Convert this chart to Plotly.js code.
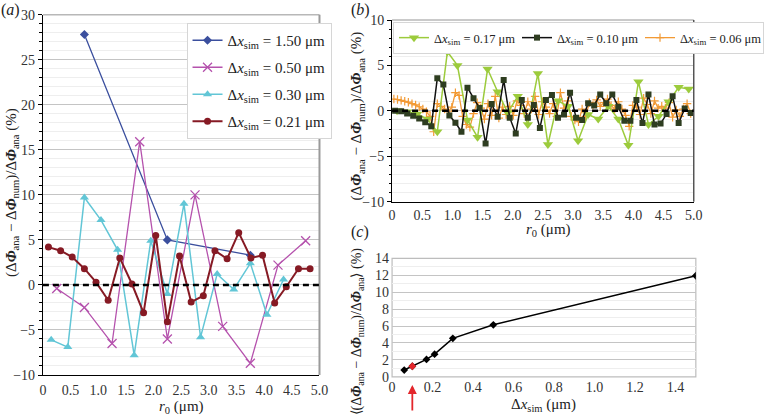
<!DOCTYPE html>
<html>
<head>
<meta charset="utf-8">
<script src="https://cdn.plot.ly/plotly-3.0.1.min.js"></script>
<style>html,body{margin:0;padding:0;background:#fff;}#chart{width:764px;height:418px;}</style>
</head>
<body>
<div id="chart"></div>
<script>
// ---------- Panel (a) data ----------
const r_a150 = [0.75, 2.25, 3.75];
const e_a150 = [27.8, 5.0, 3.3];
const r_a050 = [0.25, 0.75, 1.25, 1.75, 2.25, 2.75, 3.25, 3.75, 4.25, 4.75];
const e_a050 = [-0.4, -2.5, -6.5, 15.9, -6.0, 10.0, -4.6, -8.7, 2.2, 4.9];
const r_a030 = [0.15, 0.45, 0.75, 1.05, 1.35, 1.65, 1.95, 2.25, 2.55, 2.85, 3.15, 3.45, 3.75, 4.05, 4.35];
const e_a030 = [-6.1, -6.9, 9.7, 7.2, 3.9, -7.8, 4.9, -1.0, 9.0, -5.8, 1.2, -0.5, 2.4, -3.3, 0.6];
const r_a021 = [0.10, 0.32, 0.53, 0.75, 0.96, 1.18, 1.39, 1.61, 1.82, 2.04, 2.25, 2.47, 2.68, 2.90, 3.11, 3.33, 3.54, 3.76, 3.97, 4.19, 4.40, 4.62, 4.83];
const e_a021 = [4.2, 3.8, 3.1, 1.8, 0.3, -1.7, 3.0, 0.1, -3.1, 5.5, -4.1, 3.2, -1.9, -1.2, 3.8, 2.9, 5.8, 3.0, 3.3, -2.0, -0.2, 1.8, 1.8];

// ---------- Panel (b) data ----------
const r_b017 = [0.083, 0.25, 0.417, 0.583, 0.75, 0.917, 1.083, 1.25, 1.417, 1.583, 1.75, 1.917, 2.083, 2.25, 2.417,
                2.583, 2.75, 2.917, 3.083, 3.25, 3.417, 3.583, 3.75, 3.917, 4.083, 4.25, 4.417, 4.583, 4.75, 4.917];
const e_b017 = [0.0, -0.1, -0.35, -0.9, -2.3, 6.5, 5.0, -1.0, -2.9, 4.6, 2.1, -0.2, 1.6, -1.5, 4.1,
                -3.7, 1.1, 0.5, -3.3, -0.4, -0.9, 0.5, -0.9, -3.8, 3.2, -1.5, -0.6, 1.0, 2.6, 2.4];
const r_b010 = [0.05, 0.15, 0.25, 0.35, 0.45, 0.55, 0.65, 0.75, 0.85, 0.95, 1.05, 1.15, 1.25, 1.35, 1.45, 1.55, 1.65, 1.75, 1.85, 1.95,
                2.05, 2.15, 2.25, 2.35, 2.45, 2.55, 2.65, 2.75, 2.85, 2.95, 3.05, 3.15, 3.25, 3.35, 3.45, 3.55, 3.65, 3.75, 3.85, 3.95,
                4.05, 4.15, 4.25, 4.35, 4.45, 4.55, 4.65, 4.75, 4.85, 4.95];
const e_b010 = [0.0, -0.05, -0.3, -0.55, -0.85, -1.25, -1.7, 3.6, 2.9, -0.5, -1.3, -2.3, 2.55, 1.4, 0.3, -3.6, 0.75, -0.65, 3.4, -0.75,
                -2.5, 1.2, -0.75, 0.65, -1.9, 1.2, 1.75, -0.75, -0.4, 2.0, -0.75, -1.0, 0.85, 0.6, 1.8, 0.85, 1.8, 0.45, -1.1, -1.1,
                1.2, -1.35, 1.8, -1.5, -1.4, -0.35, 1.6, -1.35, 0.25, -0.25];
const r_b006 = [0.03, 0.09, 0.15, 0.21, 0.27, 0.33, 0.39, 0.45, 0.51, 0.57, 0.63, 0.69, 0.75, 0.81, 0.87, 0.93, 0.99,
                1.05, 1.11, 1.17, 1.23, 1.29, 1.35, 1.41, 1.47, 1.53, 1.59, 1.65, 1.71, 1.77, 1.83, 1.89, 1.95,
                2.01, 2.07, 2.13, 2.19, 2.25, 2.31, 2.37, 2.43, 2.49, 2.55, 2.61, 2.67, 2.73, 2.79, 2.85, 2.91, 2.97,
                3.03, 3.09, 3.15, 3.21, 3.27, 3.33, 3.39, 3.45, 3.51, 3.57, 3.63, 3.69, 3.75, 3.81, 3.87, 3.93, 3.99,
                4.05, 4.11, 4.17, 4.23, 4.29, 4.35, 4.41, 4.47, 4.53, 4.59, 4.65, 4.71, 4.77, 4.83, 4.89, 4.95];
const e_b006 = [1.3, 1.25, 1.15, 1.05, 0.95, 0.8, 0.65, 0.45, 0.2, -0.1, -0.6, -2.3, 0.8, 0.5, 0.2, -0.1, 0.4,
                2.0, 1.7, -0.6, -1.5, -1.8, -0.3, 0.9, 0.3, -0.9, 0.8, -0.5, 1.6, -0.8, 0.4, -0.4, 0.5,
                -0.5, 1.1, 0.6, -0.3, 1.0, 0.2, 1.6, -0.4, 1.0, 0.4, -0.3, 0.8, -0.6, 2.0, 0.3, 1.1, -0.6,
                -1.0, -1.2, 0.2, -0.6, 0.9, 0.6, 1.2, 0.5, 0.9, 1.3, 0.6, 0.2, 1.0, 0.2, -0.5, -1.7, 0.6,
                0.4, -0.4, 1.4, 0.7, -0.3, 1.1, 0.3, 0.5, 0.3, 0.9, -0.7, 0.1, -0.6, 0.2, 0.8, -0.3];

// ---------- Panel (c) data ----------
const dxSim = [0.06, 0.10, 0.17, 0.21, 0.30, 0.50, 1.50];
const errMean = [0.8, 1.25, 2.05, 2.68, 4.55, 6.15, 11.95];
const highlightDx = [0.10];

// ---------- tick labels ----------
const rTickVals = [0, 0.5, 1.0, 1.5, 2.0, 2.5, 3.0, 3.5, 4.0, 4.5, 5.0];
const rTickText = ['0', '0.5', '1.0', '1.5', '2.0', '2.5', '3.0', '3.5', '4.0', '4.5', '5.0'];
const dxTickVals = [0, 0.2, 0.4, 0.6, 0.8, 1.0, 1.2, 1.4];
const dxTickText = ['0', '0.2', '0.4', '0.6', '0.8', '1.0', '1.2', '1.4'];

// ---------- legend labels ----------
const labA = ['Δ<i>x</i><sub>sim</sub> = 1.50 μm', 'Δ<i>x</i><sub>sim</sub> = 0.50 μm',
              'Δ<i>x</i><sub>sim</sub> = 0.30 μm', 'Δ<i>x</i><sub>sim</sub> = 0.21 μm'];
const labB = ['Δ<i>x</i><sub>sim</sub> = 0.17 μm', 'Δ<i>x</i><sub>sim</sub> = 0.10 μm', 'Δ<i>x</i><sub>sim</sub> = 0.06 μm'];

const FONT = 'Liberation Serif';
const W = 764, H = 418;
const px = v => v / W;
const py = v => 1 - v / H;

const traces = [
  {x: r_a150, y: e_a150, name: labA[0], legend: 'legend', legendgroup: 'a1', mode: 'lines+markers', xaxis: 'x', yaxis: 'y',
   line: {color: '#3b4f9e', width: 1.3}, marker: {symbol: 'diamond', size: 7, color: '#3b4f9e'}},
  {x: r_a050, y: e_a050, name: labA[1], legend: 'legend', legendgroup: 'a2', mode: 'lines+markers', xaxis: 'x', yaxis: 'y',
   line: {color: '#b552ad', width: 1.3}, marker: {symbol: 'x-thin', size: 9, color: '#b552ad', line: {color: '#b552ad', width: 1.3}}},
  {x: r_a030, y: e_a030, name: labA[2], legend: 'legend', legendgroup: 'a3', mode: 'lines+markers', xaxis: 'x', yaxis: 'y',
   line: {color: '#62c6d6', width: 1.5}, marker: {symbol: 'triangle-up', size: 8, color: '#62c6d6'}},
  {x: r_a021, y: e_a021, name: labA[3], legend: 'legend', legendgroup: 'a4', mode: 'lines+markers', xaxis: 'x', yaxis: 'y',
   line: {color: '#861a24', width: 2}, marker: {symbol: 'circle', size: 7, color: '#861a24'}},

  {x: r_b006, y: e_b006, name: labB[2], legend: 'legend2', legendrank: 3, mode: 'lines+markers', xaxis: 'x2', yaxis: 'y2',
   line: {color: '#f29a35', width: 1.3}, marker: {symbol: 'cross-thin', size: 6, color: '#f29a35', line: {color: '#f29a35', width: 1.2}}},
  {x: r_b017, y: e_b017, name: labB[0], legend: 'legend2', legendrank: 1, mode: 'lines+markers', xaxis: 'x2', yaxis: 'y2',
   line: {color: '#9ccb3c', width: 1.5}, marker: {symbol: 'triangle-down', size: 9, color: '#9ccb3c'}},
  {x: r_b010, y: e_b010, name: labB[1], legend: 'legend2', legendrank: 2, mode: 'lines+markers', xaxis: 'x2', yaxis: 'y2',
   line: {color: '#111111', width: 1.5}, marker: {symbol: 'square', size: 6, color: '#2e3d20'}},

  {x: dxSim, y: errMean, showlegend: false, mode: 'lines+markers', xaxis: 'x3', yaxis: 'y3',
   line: {color: '#000', width: 1.5}, marker: {symbol: 'diamond', size: 6, color: '#000'}},
  {x: highlightDx, y: highlightDx.map(v => errMean[dxSim.indexOf(v)]), showlegend: false, mode: 'markers', xaxis: 'x3', yaxis: 'y3',
   marker: {symbol: 'diamond', size: 6, color: '#e3262b'}}
];

const tickFont = () => ({family: FONT, size: 14, color: '#333'});
const minorY = () => ({dtick: 1, ticks: 'outside', ticklen: 2.5, tickcolor: '#000', showgrid: true, gridcolor: '#eeeeee', gridwidth: 1});

function ann(text, x, y, size, angle) {
  return {text: text, xref: 'paper', yref: 'paper', x: px(x), y: py(y), xanchor: 'center', yanchor: 'middle',
          textangle: angle || 0, showarrow: false, font: {family: FONT, size: size, color: '#222'}};
}
const yTitle = '(Δ<b><i>Φ</i></b><sub>ana</sub> − Δ<b><i>Φ</i></b><sub>num</sub>)/Δ<b><i>Φ</i></b><sub>ana</sub> (%)';
const yTitleC = '⟨(Δ<b><i>Φ</i></b><sub>ana</sub> − Δ<b><i>Φ</i></b><sub>num</sub>)/Δ<b><i>Φ</i></b><sub>ana</sub>⟩ (%)';

const layout = {
  width: W, height: H,
  margin: {l: 0, r: 0, t: 0, b: 0},
  paper_bgcolor: '#fff', plot_bgcolor: '#fff',
  font: {family: FONT, size: 14, color: '#222'},
  showlegend: true,
  xaxis: {domain: [px(46.7), px(347.7)], anchor: 'y', range: [0, 5], tickvals: rTickVals, ticktext: rTickText,
          showline: true, linecolor: '#000', linewidth: 1, ticks: '', showgrid: false, zeroline: false, tickfont: tickFont(), ticklabelstandoff: 2},
  yaxis: {domain: [py(375), py(14.7)], anchor: 'x', range: [-10, 30], dtick: 5, showline: true, linecolor: '#000', linewidth: 1,
          ticks: 'outside', ticklen: 4, tickcolor: '#000', gridcolor: '#c4c4c4', zeroline: false, tickfont: tickFont(), minor: minorY()},
  xaxis2: {domain: [px(426.7), px(755)], anchor: 'y2', range: [0, 5], tickvals: rTickVals, ticktext: rTickText,
           showline: true, linecolor: '#000', linewidth: 1, ticks: '', showgrid: false, zeroline: false, tickfont: tickFont()},
  yaxis2: {domain: [py(201.7), py(20)], anchor: 'x2', range: [-10, 10], dtick: 5, showline: true, linecolor: '#000', linewidth: 1,
           ticks: 'outside', ticklen: 4, tickcolor: '#000', gridcolor: '#c4c4c4', zeroline: false, tickfont: tickFont(), minor: minorY()},
  xaxis3: {domain: [px(426.7), px(757.3)], anchor: 'y3', range: [0, 1.5], tickvals: dxTickVals, ticktext: dxTickText,
           showline: false, ticks: '', showgrid: false, zeroline: false, tickfont: tickFont()},
  yaxis3: {domain: [py(376.8), py(258.4)], anchor: 'x3', range: [0, 14], dtick: 2, showline: false, ticks: '',
           gridcolor: '#c4c4c4', zeroline: false, tickfont: tickFont(), ticklabelstandoff: 2,
           minor: {dtick: 1, showgrid: true, gridcolor: '#eeeeee', gridwidth: 1}},
  legend: {x: px(203), y: py(23), xanchor: 'left', yanchor: 'top', bgcolor: '#fff', bordercolor: '#d6d6d6', borderwidth: 1,
           font: {family: FONT, size: 15, color: '#222'}, tracegroupgap: 4.5, itemwidth: 30},
  legend2: {orientation: 'h', x: px(428), y: py(22), xanchor: 'left', yanchor: 'top', bgcolor: '#fff', bordercolor: '#d6d6d6', borderwidth: 1,
            font: {family: FONT, size: 12.5, color: '#222'}, itemwidth: 30, entrywidth: 78},
  shapes: [
    {type: 'line', xref: 'x domain', yref: 'y domain', x0: 0, x1: 1, y0: 1, y1: 1, line: {color: '#b8b8b8', width: 1.5}},
    {type: 'line', xref: 'x domain', yref: 'y domain', x0: 1, x1: 1, y0: 0, y1: 1, line: {color: '#9a9a9a', width: 2}},
    {type: 'line', xref: 'x domain', yref: 'y', x0: 0, x1: 1, y0: 0, y1: 0, line: {color: '#000', width: 2.5, dash: '6px,4px'}},
    {type: 'line', xref: 'x2 domain', yref: 'y2 domain', x0: 0, x1: 1, y0: 1, y1: 1, line: {color: '#b8b8b8', width: 1.5}},
    {type: 'line', xref: 'x2 domain', yref: 'y2 domain', x0: 1, x1: 1, y0: 0, y1: 1, line: {color: '#555', width: 1.5}},
    {type: 'line', xref: 'x2 domain', yref: 'y2', x0: 0, x1: 1, y0: 0, y1: 0, line: {color: '#000', width: 2.5, dash: '6px,4px'}},
    {type: 'rect', xref: 'x3 domain', yref: 'y3 domain', x0: 0, x1: 1, y0: 0, y1: 1, line: {color: '#bdbdbd', width: 1.2}, layer: 'below'}
  ],
  annotations: [
    ann('(<i>a</i>)', 11, 10, 16),
    ann('(<i>b</i>)', 392, 10, 16),
    ann('(<i>c</i>)', 392, 232, 16),
    ann(yTitle, 13, 192, 15, -90),
    ann('<i>r</i><sub>0</sub> (μm)', 197, 407, 15),
    ann(yTitle, 389, 116, 15, -90),
    ann('<i>r</i><sub>0</sub> (μm)', 597, 230, 15),
    ann(yTitleC, 389, 331, 14, -90),
    ann('Δ<i>x</i><sub>sim</sub> (μm)', 592, 405, 15),
    {text: '', xref: 'x3', yref: 'paper', x: highlightDx[0], y: py(385), showarrow: true, ax: 0, ay: 27,
     arrowhead: 2, arrowsize: 1, arrowwidth: 1.8, arrowcolor: '#e3262b', standoff: 0}
  ]
};

Plotly.newPlot('chart', traces, layout, {staticPlot: true, displayModeBar: false});
</script>
</body>
</html>
